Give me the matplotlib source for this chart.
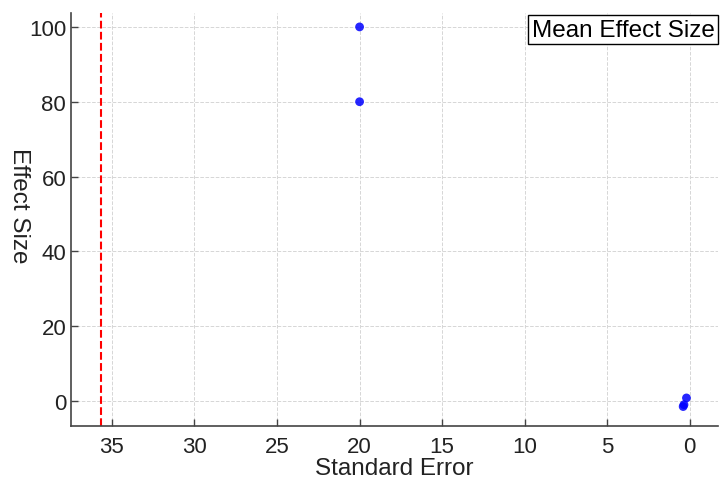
import numpy as np
import matplotlib.pyplot as plt

plt.rcParams['font.family'] = ['Liberation Sans', 'DejaVu Sans']

# data
std_err = [20.0, 20.0, 0.2, 0.35, 0.4]
effect = [100.0, 80.0, 0.8, -1.0, -1.5]

mean_effect = np.mean(effect)

fig = plt.figure(figsize=(7.2, 4.85), dpi=100)
ax = fig.add_axes([0.0986, 0.1196, 0.8984, 0.8514])

ax.scatter(std_err, effect, s=40, color='blue', alpha=0.85, edgecolors='none', zorder=3)
ax.axvline(mean_effect, color='red', linestyle='--', linewidth=1.5, label='Mean Effect Size', zorder=2)

ax.set_xlim(37.48, -1.7)
ax.set_ylim(-6.7, 103.7)
ax.set_xticks([35, 30, 25, 20, 15, 10, 5, 0])
ax.set_yticks([0, 20, 40, 60, 80, 100])

ax.grid(True, linestyle='--', color='#d6d6d6', linewidth=0.7)
ax.set_axisbelow(True)
ax.spines['top'].set_visible(False)
ax.spines['right'].set_visible(False)
for s in ['left', 'bottom']:
    ax.spines[s].set_color('#444444')
    ax.spines[s].set_linewidth(1.2)
ax.tick_params(direction='in', length=5, width=1, colors='#444444', labelcolor='#222222', labelsize=16)
ax.tick_params(axis='x', pad=7)

ax.set_xlabel('Standard Error', fontsize=17.5, color='#222222', labelpad=0)
ax.set_ylabel('Effect Size', fontsize=17.5, color='#222222', rotation=270)
ax.yaxis.set_label_coords(-0.097, 0.535)

leg = ax.legend(loc='upper left', bbox_to_anchor=(528 / 720, 1 - 16 / 485),
                bbox_transform=fig.transFigure, handlelength=0, handletextpad=0,
                fancybox=False, edgecolor='black', framealpha=1, fontsize=17.5,
                borderpad=0.15, borderaxespad=0)
for h in leg.legend_handles:
    h.set_visible(False)
leg.get_frame().set_linewidth(1.0)

fig.savefig('out.png', dpi=100)
